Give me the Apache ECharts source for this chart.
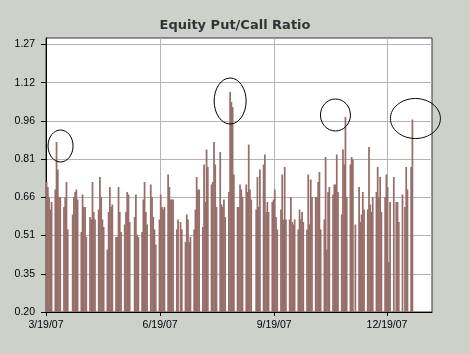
<!DOCTYPE html>
<html>
<head>
<meta charset="utf-8">
<script src="https://cdn.jsdelivr.net/npm/echarts@6/dist/echarts.min.js"></script>
<style>
html, body { margin: 0; padding: 0; background: #ccd1ca; }
#chart { width: 470px; height: 354px; }
</style>
</head>
<body>
<div id="chart"></div>
<script>
// daily equity put/call ratio, one array per month (trading days only)
var mar07 = [0.72, 0.70, 0.66, 0.61, 0.64, 0.69, 0.88, 0.77, 0.66, 0.66];
var apr07 = [0.62, 0.66, 0.72, 0.53, 0.59, 0.66, 0.68, 0.69, 0.65, 0.52, 0.67, 0.62, 0.62, 0.50, 0.58, 0.57, 0.72, 0.60, 0.57, 0.61];
var may07 = [0.74, 0.66, 0.57, 0.54, 0.45, 0.60, 0.70, 0.62, 0.63, 0.50, 0.50, 0.70, 0.60, 0.52, 0.55, 0.60, 0.68, 0.67, 0.56, 0.58, 0.67, 0.51];
var jun07 = [0.50, 0.52, 0.65, 0.72, 0.60, 0.55, 0.71, 0.66, 0.58, 0.53, 0.47, 0.57, 0.67, 0.62, 0.61, 0.62, 0.75, 0.70, 0.65, 0.65, 0.65];
var jul07 = [0.53, 0.57, 0.56, 0.53, 0.48, 0.59, 0.57, 0.48, 0.50, 0.53, 0.61, 0.74, 0.69, 0.69, 0.54, 0.79, 0.64, 0.85, 0.78, 0.71, 0.72];
var aug07 = [0.88, 0.79, 0.62, 0.84, 0.63, 0.62, 0.65, 0.58, 0.68, 1.08, 1.04, 1.02, 0.75, 0.62, 0.62, 0.71, 0.69, 0.66, 0.71, 0.68, 0.87, 0.69, 0.65];
var sep07 = [0.61, 0.74, 0.62, 0.77, 0.79, 0.83, 0.60, 0.64, 0.60, 0.64, 0.65, 0.69, 0.58, 0.53, 0.61, 0.75, 0.57, 0.78, 0.57];
var oct07 = [0.57, 0.66, 0.56, 0.55, 0.57, 0.53, 0.61, 0.57, 0.60, 0.56, 0.53, 0.75, 0.55, 0.73, 0.66, 0.66, 0.66, 0.72, 0.76, 0.53, 0.57, 0.82, 0.45];
var nov07 = [0.68, 0.70, 0.67, 0.71, 0.71, 0.83, 0.68, 0.59, 0.85, 0.79, 0.98, 0.66, 0.79, 0.82, 0.81, 0.55, 0.70, 0.56, 0.59, 0.68, 0.61];
var dec07 = [0.61, 0.86, 0.63, 0.60, 0.66, 0.68, 0.78, 0.66, 0.74, 0.60, 0.66, 0.75, 0.70, 0.40, 0.64, 0.74, 0.64, 0.64, 0.56, 0.67];
var jan08 = [0.62, 0.78, 0.69, 0.78, 0.97];

var ratio = [].concat(mar07, apr07, may07, jun07, jul07, aug07, sep07, oct07, nov07, dec07, jan08);

// market holidays in the period
var holidays = ['2007-4-6', '2007-5-28', '2007-7-4', '2007-9-3', '2007-11-22', '2007-12-25', '2008-1-1'];
var tickDates = [[2007, 3, 19], [2007, 6, 19], [2007, 9, 19], [2007, 12, 19]];
var yMin = 0.2, yStep = 1.07 / 7;

// spikes that are circled by hand: day index, then ellipse offset and radii in px
var circled = [[6, 4, 4, 12.5, 16], [103, 0, 9, 16, 23], [169, -10, -2, 15, 16], [204, 3, -1, 25, 20]];

// trading days from 3/19/07 on
var days = [];
var d = new Date(2007, 2, 19, 12);
while (days.length < ratio.length) {
    var key = d.getFullYear() + '-' + (d.getMonth() + 1) + '-' + d.getDate();
    if (d.getDay() != 0 && d.getDay() != 6 && holidays.indexOf(key) < 0) days.push(d.getTime());
    d.setDate(d.getDate() + 1);
}
var data = days.map(function (t, i) { return [t, ratio[i]]; });

var xTicks = tickDates.map(function (a) { return new Date(a[0], a[1] - 1, a[2]).getTime(); });
var yTicks = [];
for (var i = 0; i <= 7; i++) yTicks.push(yMin + i * yStep);

var chart = echarts.init(document.getElementById('chart'));
var option = {
    animation: false,
    backgroundColor: '#ccd1ca',
    title: {
        text: 'Equity Put/Call Ratio',
        left: 'center',
        top: 14,
        textStyle: { fontFamily: 'DejaVu Sans', fontSize: 13, fontWeight: 'bold', color: '#333' }
    },
    grid: {
        left: 46, right: 38, top: 38, bottom: 42,
        show: true, backgroundColor: '#fff', borderColor: '#333', borderWidth: 1
    },
    xAxis: {
        type: 'value',
        min: xTicks[0],
        max: xTicks[0] + 311.3 * 86400000,
        axisLine: { lineStyle: { color: '#000' } },
        axisTick: { show: true, length: 4, customValues: xTicks, lineStyle: { color: '#000' } },
        axisLabel: {
            customValues: xTicks,
            margin: 8,
            color: '#000',
            fontFamily: 'Liberation Sans',
            fontSize: 10.5,
            formatter: function (v) {
                var t = new Date(v);
                return (t.getMonth() + 1) + '/' + t.getDate() + '/' + String(t.getFullYear()).slice(2);
            }
        },
        splitLine: { show: true, lineStyle: { color: '#b4b4b4' } }
    },
    yAxis: {
        type: 'value',
        min: yMin,
        max: 1.296,
        axisLine: { show: true, lineStyle: { color: '#000' } },
        axisTick: { show: true, length: 5, customValues: yTicks, lineStyle: { color: '#000' } },
        axisLabel: {
            customValues: yTicks,
            margin: 11,
            color: '#000',
            fontFamily: 'Liberation Sans',
            fontSize: 10.5,
            formatter: function (v) { return v.toFixed(2); }
        },
        splitLine: { show: true, lineStyle: { color: '#b4b4b4' } }
    },
    series: [{
        type: 'bar',
        data: data,
        barWidth: 1.75,
        itemStyle: { color: '#976e69' }
    }]
};
chart.setOption(option);

// hand drawn circles round the spikes
var rings = circled.map(function (c) {
    var p = chart.convertToPixel({ gridIndex: 0 }, data[c[0]]);
    return {
        type: 'ellipse',
        z: 100,
        shape: { cx: p[0] + c[1], cy: p[1] + c[2], rx: c[3], ry: c[4] },
        style: { fill: null, stroke: '#000', lineWidth: 1 }
    };
});
chart.setOption({ graphic: rings });
</script>
</body>
</html>
